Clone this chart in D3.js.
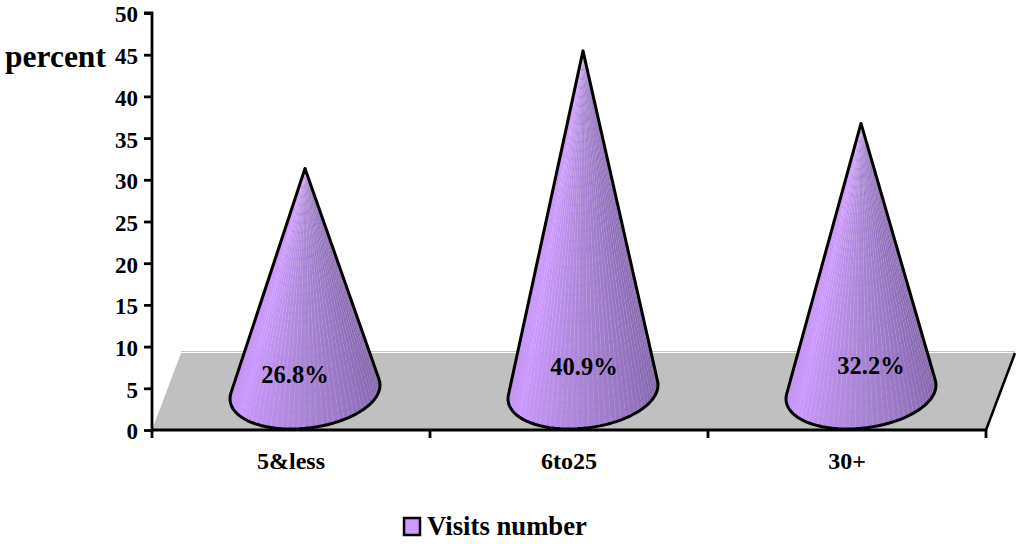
<!DOCTYPE html>
<html>
<head>
<meta charset="utf-8">
<script src="https://cdn.jsdelivr.net/npm/d3@7"></script>
<style>
  html, body { margin: 0; padding: 0; background: #fff; }
  svg { display: block; }
  text { font-family: "Liberation Serif", serif; font-weight: bold; fill: #000; }
</style>
</head>
<body>
<svg id="chart" width="1016" height="544"></svg>
<script>
const categories = ["5&less", "6to25", "30+"];
const seriesValues = [26.8, 40.9, 32.2];
const valueLabels = ["26.8%", "40.9%", "32.2%"];
const yTicks = [0, 5, 10, 15, 20, 25, 30, 35, 40, 45, 50];
const seriesName = "Visits number";
const axisTitle = "percent";

const svg = d3.select("#chart");
const y = d3.scaleLinear().domain([0, 50]).range([430, 13]);
const x = d3.scaleBand().domain(categories).range([152, 986]);

// Oblique projection of the chart's floor and cone placement
const depthX = 29, depthY = 77;
const shear = depthX / depthY;
const coneOffsetX = 14, baseRise = 38;
const rx = 73.7, ry = 37;

// Hand placement of the percentage labels relative to each cone's base centre
const labelShift = [[-10, -9], [1, -17], [10, -18]];

// Floor
const floorTop = y(0) - depthY;
svg.append("path")
  .attr("d", `M152,${y(0)}L${152 + depthX},${floorTop}H${986 + depthX}L986,${y(0)}Z`)
  .attr("fill", "#c0c0c0");
svg.append("path")
  .attr("d", `M${152},${y(0) - 3}L${152 + depthX - 1},${floorTop - 1}`)
  .attr("fill", "none").attr("stroke", "#fff").attr("stroke-width", 1);
svg.append("path")
  .attr("d", `M${152 + depthX},${floorTop - 1.5}H${986 + depthX}`)
  .attr("fill", "none").attr("stroke", "#c4c4c4").attr("stroke-width", 1);
svg.append("line")
  .attr("x1", 986).attr("y1", y(0)).attr("x2", 986 + depthX).attr("y2", floorTop)
  .attr("stroke", "#000").attr("stroke-width", 2.5);

// Axes
const yAxis = d3.axisLeft(y).tickValues(yTicks).tickSize(8).tickPadding(6);
const yG = svg.append("g").attr("transform", "translate(152,0)").call(yAxis);
const xAxis = d3.axisBottom(x).tickSize(0).tickPadding(22);
const xG = svg.append("g").attr("transform", `translate(0,${y(0)})`).call(xAxis);
[yG, xG].forEach(g => {
  g.select(".domain").attr("stroke", "#000").attr("stroke-width", 2.8);
  g.selectAll(".tick line").attr("stroke", "#000").attr("stroke-width", 2.8);
  g.selectAll("text").attr("font-family", null).attr("fill", "#000");
});
yG.selectAll("text").style("font-size", "23px").attr("dy", "0.39em");
xG.selectAll("text").style("font-size", "24px");
xG.select(".domain").attr("d", "M152,0H986");
yG.select(".domain").attr("d", `M-8,${y(50)}H0V${y(0)}`);
svg.append("g").attr("transform", `translate(0,${y(0)})`)
  .selectAll("line")
  .data(d3.range(categories.length + 1))
  .join("line")
  .attr("x1", i => 152 + i * x.bandwidth())
  .attr("x2", i => 152 + i * x.bandwidth())
  .attr("y1", 0).attr("y2", 8)
  .attr("stroke", "#000").attr("stroke-width", 2.8);

// Shading across the visible side of a cone, 0 = left edge, 1 = right edge
const shade = d3.scaleLinear()
  .domain([0, 0.08, 0.2, 0.5, 0.75, 1])
  .range(["#b98fea", "#c494f6", "#cc99ff", "#a985d5", "#9270bd", "#7d60a0"])
  .interpolate(d3.interpolateRgb);

// Cones
const cones = svg.append("g");
categories.forEach((c, i) => {
  const cx = x(c) + x.bandwidth() / 2 + coneOffsetX;
  const by = y(0) - baseRise;
  const height = y(0) - y(seriesValues[i]);
  const apexY = by - height;
  // The base is a sheared ellipse lying on the floor plane
  const pt = t => [cx + rx * Math.cos(t) - shear * ry * Math.sin(t), by + ry * Math.sin(t)];
  // Silhouette angles: tangents from the apex, solved in the unit-circle frame
  const ca = -shear * height / rx, sa = -height / ry;
  const phi = Math.atan2(sa, ca), spread = Math.acos(1 / Math.hypot(ca, sa));
  const t0 = phi + spread, t1 = phi - spread + 2 * Math.PI;
  const steps = 44;
  const g = cones.append("g");
  const angles = d3.range(steps + 1).map(k => t0 + (t1 - t0) * k / steps);
  // angles run right-to-left around the front of the base
  d3.pairs(angles).forEach(([a, b], k) => {
    const p = pt(a), q = pt(b);
    const sweep = 1 - (k + 0.5) / steps;
    g.append("path")
      .attr("d", `M${cx},${apexY}L${p}L${q}Z`)
      .attr("fill", shade(sweep))
      .attr("stroke", shade(sweep))
      .attr("stroke-width", 0.4);
  });
  // Faint dashed seams between the facets, absent near the lit left edge
  angles.forEach((a, k) => {
    if (k === 0 || k > steps * 0.8) return;
    const p = pt(a);
    g.append("line")
      .attr("x1", p[0]).attr("y1", p[1]).attr("x2", cx).attr("y2", apexY)
      .attr("stroke", "#fff").attr("stroke-opacity", 0.2).attr("stroke-width", 0.6)
      .attr("stroke-dasharray", "7 2");
  });
  const outline = [[cx, apexY]].concat(angles.map(pt));
  g.append("path")
    .attr("d", d3.line()(outline) + "Z")
    .attr("fill", "none").attr("stroke", "#000").attr("stroke-width", 3).attr("stroke-linejoin", "round");
  g.append("text")
    .attr("x", cx + labelShift[i][0])
    .attr("y", by + labelShift[i][1])
    .attr("text-anchor", "middle")
    .style("font-size", "24.5px")
    .text(valueLabels[i]);
});

// Axis title
svg.append("text").attr("x", 5).attr("y", 67).style("font-size", "31.5px").text(axisTitle);

// Legend
svg.append("rect").attr("x", 404).attr("y", 518).attr("width", 16).attr("height", 17)
  .attr("fill", "#cc99ff").attr("stroke", "#000").attr("stroke-width", 2.5);
svg.append("text").attr("x", 427).attr("y", 535).style("font-size", "26.7px").text(seriesName);
</script>
</body>
</html>
